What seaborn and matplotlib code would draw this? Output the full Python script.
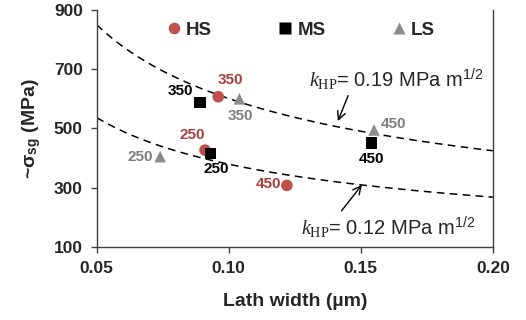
import numpy as np
import pandas as pd
import seaborn as sns
import matplotlib.pyplot as plt

# data
groups = ["HS", "HS", "HS", "MS", "MS", "MS", "LS", "LS", "LS"]
temps = ["250", "350", "450", "250", "350", "450", "250", "350", "450"]
lath_width = [0.091, 0.096, 0.122, 0.093, 0.089, 0.154, 0.074, 0.104, 0.155]
stress = [427, 607, 308, 415, 588, 450, 405, 600, 495]

# Hall-Petch lines, k in MPa m^1/2
k_values = [0.19, 0.12]

sns.set_style("ticks")
plt.rcParams['font.family'] = ['Liberation Sans', 'DejaVu Sans']
plt.rcParams['mathtext.fontset'] = 'custom'
plt.rcParams['mathtext.it'] = 'Liberation Serif:italic'
plt.rcParams['mathtext.rm'] = 'Liberation Serif'
plt.rcParams['mathtext.sf'] = 'Liberation Sans'
plt.rcParams['mathtext.bf'] = 'Liberation Sans:bold'

df = pd.DataFrame({"group": groups, "T": temps, "d": lath_width, "s": stress})

fig = plt.figure(figsize=(5.26, 3.2), dpi=100)
ax = fig.add_axes([0.184, 0.228, 0.753, 0.741])

# dashed Hall-Petch curves
d = np.linspace(0.05, 0.20, 200)
for k in k_values:
    ax.plot(d, k * 1000 / np.sqrt(d), ls=(0, (5, 3.5)), color="black", lw=1.1, zorder=1)

pal = {"HS": "#c0504d", "MS": "black", "LS": "#8c8c8c"}
mk = {"HS": "o", "MS": "s", "LS": "^"}
sns.scatterplot(data=df, x="d", y="s", hue="group", style="group",
                palette=pal, markers=mk, s=70, edgecolor="none", ax=ax, zorder=3)

# point labels
txt_col = {"HS": "#a8403d", "MS": "black", "LS": "#7f7f7f"}
offs = [(-9, 11, "center"), (9, 12, "center"), (-4, 1, "right"),
        (4, -11, "center"), (-5, 8, "right"), (0, -11, "center"),
        (-5, 0, "right"), (1, -12, "center"), (5, 4, "left")]
for i in range(len(df)):
    dx, dy, ha = offs[i]
    ax.annotate(temps[i], (lath_width[i], stress[i]), xytext=(dx, dy),
                textcoords="offset points", ha=ha, va="center",
                fontsize=11, fontweight="bold", color=txt_col[groups[i]])

# k_HP annotations
ax.annotate(r"$\mathit{k}_{\mathrm{HP}}$= 0.19 MPa m$^{\mathsf{1/2}}$",
            xy=(0.1413, 525), xytext=(0.1305, 665), fontsize=14.5, va="center",
            arrowprops=dict(arrowstyle="->", color="black", lw=1,
                            shrinkA=0, shrinkB=0, relpos=(0.23, 0)))
ax.annotate(r"$\mathit{k}_{\mathrm{HP}}$= 0.12 MPa m$^{\mathsf{1/2}}$",
            xy=(0.1504, 310), xytext=(0.1272, 168), fontsize=14.5, va="center",
            arrowprops=dict(arrowstyle="->", color="black", lw=1,
                            shrinkA=0, shrinkB=0, relpos=(0.22, 1)))

ax.set_xlim(0.05, 0.20)
ax.set_ylim(100, 900)
ax.set_xticks([0.05, 0.10, 0.15, 0.20])
ax.set_xticklabels(["0.05", "0.10", "0.15", "0.20"])
ax.set_yticks([100, 300, 500, 700, 900])
ax.tick_params(labelsize=12.5, width=1, length=4, color="#404040")
ax.tick_params(axis="x", pad=6)
ax.tick_params(axis="y", pad=6)
for lab in ax.get_xticklabels() + ax.get_yticklabels():
    lab.set_fontweight("bold")

ax.set_xlabel("Lath width (\u00b5m)", fontsize=14, fontweight="bold", labelpad=12)
ax.set_ylabel("~\u03c3" + r"$_{\mathbf{sg}}$ (MPa)", fontsize=14, fontweight="bold",
              labelpad=8)

for side in ["left", "bottom", "right"]:
    ax.spines[side].set_color("#404040")
    ax.spines[side].set_linewidth(1)
ax.spines["top"].set_visible(False)

sns.move_legend(ax, "center", bbox_to_anchor=(0.51, 0.915), ncol=3, frameon=False,
                title=None, columnspacing=3.3, handletextpad=0.05, handlelength=1.2,
                prop={"weight": "bold", "size": 13.5}, markerscale=1.0)

fig.savefig("out.png", dpi=100)
